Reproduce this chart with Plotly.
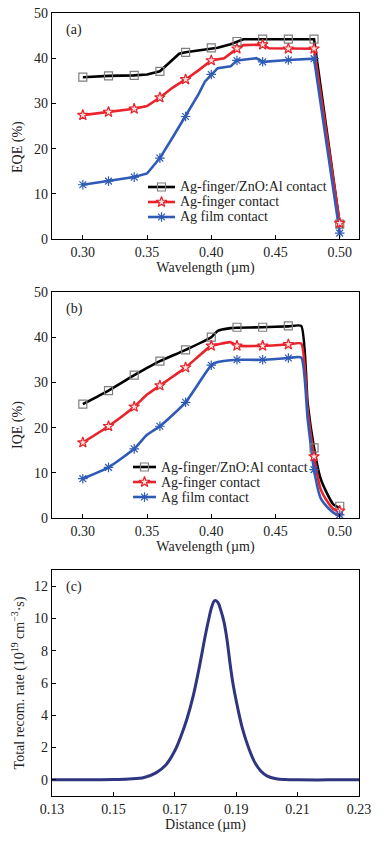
import plotly.graph_objects as go

# ---------------- data ----------------
# (a) EQE, markers every 0.02 um
wl_mk = [0.30, 0.32, 0.34, 0.36, 0.38, 0.40, 0.42, 0.44, 0.46, 0.48, 0.50]
eqe_zno_mk = [35.8, 36.1, 36.2, 37.1, 41.3, 42.3, 43.7, 44.2, 44.2, 44.2, 3.3]
eqe_fin_mk = [27.4, 28.1, 28.8, 31.3, 35.3, 39.5, 42.1, 43.0, 42.1, 42.1, 3.5]
eqe_film_mk = [12.0, 12.8, 13.7, 17.9, 27.1, 36.4, 39.5, 39.2, 39.6, 39.9, 1.3]

# (a) EQE, line points
eqe_zno_wl = [0.30, 0.32, 0.34, 0.35, 0.36, 0.375, 0.38, 0.40, 0.405, 0.415, 0.42, 0.425, 0.44, 0.46, 0.48, 0.50]
eqe_zno = [35.8, 36.1, 36.2, 36.4, 37.1, 41.0, 41.3, 42.2, 42.3, 43.1, 43.6, 44.2, 44.2, 44.2, 44.2, 3.3]
eqe_fin_wl = [0.30, 0.32, 0.34, 0.35, 0.36, 0.37, 0.38, 0.39, 0.40, 0.41, 0.42, 0.425, 0.44, 0.445, 0.46, 0.48, 0.50]
eqe_fin = [27.4, 28.1, 28.8, 29.4, 31.3, 33.5, 35.3, 37.3, 39.5, 40.0, 42.1, 42.9, 43.0, 42.2, 42.1, 42.1, 3.5]
eqe_film_wl = [0.30, 0.32, 0.34, 0.35, 0.36, 0.37, 0.38, 0.39, 0.395, 0.40, 0.405, 0.415, 0.42, 0.435, 0.44, 0.46, 0.48, 0.50]
eqe_film = [12.0, 12.8, 13.7, 14.5, 17.9, 22.5, 27.1, 32.0, 34.8, 36.4, 37.8, 38.2, 39.5, 40.0, 39.2, 39.6, 39.9, 1.3]

# (b) IQE, markers every 0.02 um
iqe_zno_mk = [25.2, 28.2, 31.6, 34.7, 37.2, 40.0, 42.2, 42.2, 42.5, 15.5, 2.6]
iqe_fin_mk = [16.7, 20.3, 24.6, 29.3, 33.3, 38.1, 38.1, 38.1, 38.4, 13.6, 1.6]
iqe_film_mk = [8.7, 11.2, 15.3, 20.3, 25.6, 33.8, 35.0, 35.0, 35.4, 10.7, 0.7]

# (b) IQE, line points
iqe_wl = [0.30, 0.32, 0.34, 0.35, 0.36, 0.38, 0.40, 0.405, 0.415, 0.42, 0.44, 0.46, 0.47, 0.475, 0.48, 0.485, 0.49, 0.495, 0.50]
iqe_zno = [25.2, 28.2, 31.6, 33.2, 34.7, 37.2, 40.0, 41.4, 42.0, 42.1, 42.2, 42.4, 42.5, 25.4, 15.5, 8.8, 5.5, 3.0, 2.2]
iqe_fin = [16.7, 20.3, 24.6, 27.3, 29.3, 33.3, 38.1, 38.4, 38.9, 38.1, 38.1, 38.4, 38.6, 24.0, 13.6, 6.5, 3.8, 2.0, 1.3]
iqe_film = [8.7, 11.2, 15.3, 18.4, 20.3, 25.6, 33.8, 34.5, 34.9, 35.0, 35.0, 35.4, 35.5, 22.0, 10.7, 4.5, 2.5, 1.2, 0.4]

# (c) total recombination rate
dist = [0.13, 0.14, 0.15, 0.155, 0.16, 0.164, 0.167, 0.170, 0.172, 0.174, 0.176, 0.178, 0.180,
        0.181, 0.182, 0.183, 0.184, 0.185, 0.186, 0.187, 0.188, 0.189, 0.190, 0.192, 0.194,
        0.196, 0.198, 0.200, 0.203, 0.206, 0.21, 0.22, 0.23]
recomb = [0.0, 0.0, 0.02, 0.06, 0.15, 0.45, 0.9, 1.8, 2.7, 3.8, 5.2, 7.0, 9.0,
          9.9, 10.7, 11.1, 11.0, 10.5, 9.8, 8.7, 7.2, 5.9, 4.9, 3.2, 2.0,
          1.1, 0.55, 0.25, 0.07, 0.015, 0.0, 0.0, 0.0]

names = ["Ag-finger/ZnO:Al contact", "Ag-finger contact", "Ag film contact"]
x_ticks_ab = [0.30, 0.35, 0.40, 0.45, 0.50]
x_ticks_c = [0.13, 0.15, 0.17, 0.19, 0.21, 0.23]

# ---------------- styles ----------------
FONT = "Liberation Serif, Times New Roman, serif"
TXT = "#222"
FS = 14
col_line = ["#000000", "#e8232b", "#2f5bb7"]
col_mk = ["#7f7f7f", "#e8232b", "#2f5bb7"]
fill_mk = ["rgba(255,255,255,0)", "#fbe3e3", "#2f5bb7"]
symbols = ["square", "star", "asterisk-open"]
MK = 8

W, H = 387.0, 841.0
L, R = 52.0, 28.0
PW = W - L - R
XR_AB = [0.276, 0.515]
PANEL_A = (13, 239)
PANEL_B = (292, 518)
PANEL_C = (570, 796)

def px2x(px):
    return (px - L) / PW

def px2y(py):
    return 1 - py / H

def dom(panel):
    top, bot = panel
    return [px2y(bot), px2y(top)]

fig = go.Figure()

def marker_style(i):
    return dict(symbol=symbols[i], size=MK, color=fill_mk[i],
                line=dict(width=1.2, color=col_mk[i]))

def add_panel(xref, yref, line_sets, mk_sets, shape, smooth):
    for i in range(3):
        lx, ly = line_sets[i]
        fig.add_trace(go.Scatter(x=lx, y=ly, mode="lines", xaxis=xref, yaxis=yref,
                                 line=dict(color=col_line[i], width=2.6, shape=shape,
                                           smoothing=smooth),
                                 showlegend=False, hoverinfo="skip"))
    for i in range(3):
        fig.add_trace(go.Scatter(x=wl_mk, y=mk_sets[i], mode="markers", xaxis=xref, yaxis=yref,
                                 marker=marker_style(i), showlegend=False))

add_panel("x", "y",
          [(eqe_zno_wl, eqe_zno), (eqe_fin_wl, eqe_fin), (eqe_film_wl, eqe_film)],
          [eqe_zno_mk, eqe_fin_mk, eqe_film_mk], "linear", 1.0)
add_panel("x2", "y2",
          [(iqe_wl, iqe_zno), (iqe_wl, iqe_fin), (iqe_wl, iqe_film)],
          [iqe_zno_mk, iqe_fin_mk, iqe_film_mk], "spline", 0.5)

fig.add_trace(go.Scatter(x=dist, y=recomb, mode="lines", xaxis="x3", yaxis="y3",
                         line=dict(color="#2f3580", width=3, shape="spline", smoothing=1.0),
                         showlegend=False))

# ---------------- hand-drawn legends (panel coordinates) ----------------
legend_specs = [
    # (xaxis, yaxis, panel, line x0 px, line x1 px, text x px, row y px)
    ("x", "y", PANEL_A, 148, 175, 178, [187, 202, 217]),
    ("x2", "y2", PANEL_B, 133, 156, 159, [467, 482, 497]),
]

def px2data_x(px):
    return XR_AB[0] + (px - L) / PW * (XR_AB[1] - XR_AB[0])

def px2data_y(py, panel):
    top, bot = panel
    return (bot - py) / (bot - top) * 50.0

for (xa, ya, panel, lx0, lx1, tx, rows) in legend_specs:
    for i, ry in enumerate(rows):
        yv = px2data_y(ry, panel)
        fig.add_trace(go.Scatter(x=[px2data_x(lx0), px2data_x(lx1)], y=[yv, yv], mode="lines",
                                 xaxis=xa, yaxis=ya, line=dict(color=col_line[i], width=2.6),
                                 showlegend=False, hoverinfo="skip"))
        fig.add_trace(go.Scatter(x=[px2data_x((lx0 + lx1) / 2)], y=[yv], mode="markers",
                                 xaxis=xa, yaxis=ya, marker=marker_style(i),
                                 showlegend=False, hoverinfo="skip"))
        fig.add_annotation(text=names[i], xref=xa, yref=ya, x=px2data_x(tx), y=yv,
                           xanchor="left", yanchor="middle", showarrow=False,
                           font=dict(family=FONT, size=FS, color=TXT))

axis_common = dict(showline=True, linecolor="#000", linewidth=1.3, mirror=True,
                   ticks="inside", ticklen=4, tickwidth=1, tickcolor="#000",
                   showgrid=False, zeroline=False, automargin=False,
                   tickfont=dict(family=FONT, size=FS, color=TXT),
                   title_font=dict(family=FONT, size=FS, color=TXT))

xab = dict(axis_common, range=XR_AB, tickvals=x_ticks_ab,
           ticktext=["%.2f" % v for v in x_ticks_ab],
           title=dict(text="Wavelength (µm)", standoff=2))

fig.update_layout(
    width=387, height=841,
    margin=dict(l=L, r=R, t=0, b=0, autoexpand=False),
    paper_bgcolor="white", plot_bgcolor="white",
    font=dict(family=FONT, size=FS, color=TXT),
    showlegend=False,
    xaxis=dict(xab, domain=[0, 1], anchor="y"),
    yaxis=dict(axis_common, domain=dom(PANEL_A), range=[0, 50], dtick=10, anchor="x"),
    xaxis2=dict(xab, domain=[0, 1], anchor="y2"),
    yaxis2=dict(axis_common, domain=dom(PANEL_B), range=[0, 50], dtick=10, anchor="x2"),
    xaxis3=dict(axis_common, domain=[0, 1], anchor="y3", range=[0.13, 0.23],
                tickvals=x_ticks_c, ticktext=["%.2f" % v for v in x_ticks_c],
                title=dict(text="Distance (µm)", standoff=2)),
    yaxis3=dict(axis_common, domain=dom(PANEL_C), range=[-1, 13], dtick=2, anchor="x3",
                title=dict(text="Total recom. rate (10<sup>19</sup> cm<sup>−3</sup>·s)", standoff=6)),
)

# y-axis titles of (a) and (b), placed slightly below the panel centre as in the original
for txt, cy in [("EQE (%)", 147), ("IQE (%)", 425)]:
    fig.add_annotation(text=txt, xref="paper", yref="paper", x=px2x(18), y=px2y(cy),
                       xanchor="center", yanchor="middle", textangle=-90, showarrow=False,
                       font=dict(family=FONT, size=FS, color=TXT))

for txt, xr, yr in [("(a)", "x domain", "y domain"), ("(b)", "x2 domain", "y2 domain"),
                    ("(c)", "x3 domain", "y3 domain")]:
    fig.add_annotation(text=txt, xref=xr, yref=yr, x=0.04, y=0.925, xanchor="left",
                       yanchor="middle", showarrow=False,
                       font=dict(family=FONT, size=FS, color=TXT))

fig.write_html("out.html", config={"displayModeBar": False},
               post_script="document.body.style.margin='0';document.body.style.overflow='hidden';")
